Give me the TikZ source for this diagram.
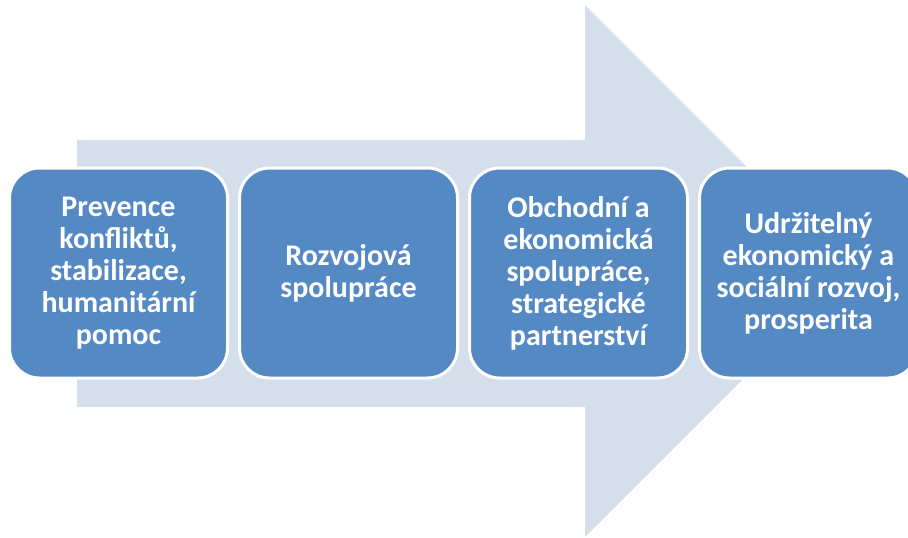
\documentclass[tikz,border=0pt]{standalone}
\usepackage{fontspec}
\setmainfont{Carlito}
\usetikzlibrary{positioning}

\definecolor{arrowfill}{RGB}{213,223,235}
\definecolor{boxfill}{RGB}{85,137,196}

\tikzset{every picture/.style={line width=0.75pt}}
\tikzset{stepbox/.style={draw=white, line width=2.25pt, fill=boxfill, rounded corners=22.5pt,
    minimum width=163.5pt, minimum height=157.5pt, align=center, text=white,
    font=\fontsize{22.5}{24}\selectfont\bfseries, inner sep=0pt}}

\begin{document}
\begin{tikzpicture}[x=0.75pt,y=0.75pt,yscale=-1,xscale=1]
%set diagram frame: 908 x 537
\clip (0,0) rectangle (908,537);

%Shape: Right Arrow [id:arrow]
\fill [arrowfill] (77,140) -- (585,140) -- (585,5) -- (851,271) -- (585,537) -- (585,407) -- (77,407) -- cycle ;

% Step boxes
\node [stepbox] (prevence) at (118.5,273) {Prevence\\konfliktů,\\stabilizace,\\humanitární\\pomoc};
\node [stepbox, right=6.75pt of prevence] (rozvoj) {Rozvojová\\spolupráce};
\node [stepbox, right=6.75pt of rozvoj] (obchod) {Obchodní a\\ekonomická\\spolupráce,\\strategické\\partnerství};
\node [stepbox, right=6.75pt of obchod] (prosperita) {Udržitelný\\ekonomický a\\sociální rozvoj,\\prosperita};

\end{tikzpicture}
\end{document}
